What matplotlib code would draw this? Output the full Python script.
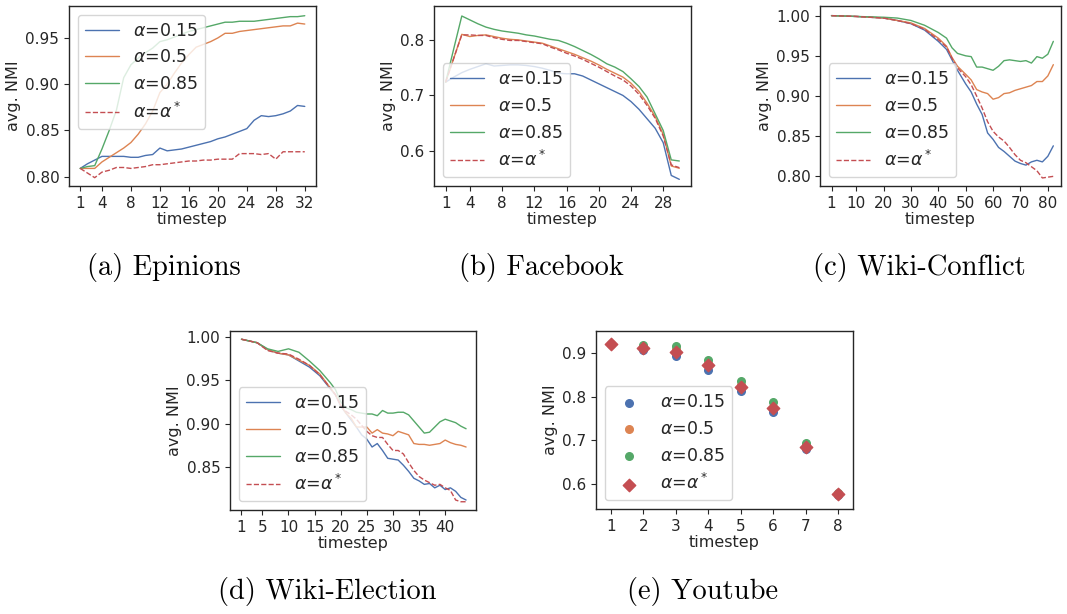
import matplotlib
matplotlib.use('Agg')
import seaborn as sns
from matplotlib import pyplot as plt

sns.set_style('ticks')
plt.rcParams['font.family'] = ['DejaVu Sans']

labels = [r'$\alpha$=0.15', r'$\alpha$=0.5', r'$\alpha$=0.85', r'$\alpha$=$\alpha^*$']

# (a) Epinions
epi_t = list(range(1, 33))
epi_015 = [0.809, 0.814, 0.818, 0.822, 0.822, 0.822, 0.822, 0.821, 0.821, 0.823, 0.824, 0.831,
           0.828, 0.829, 0.830, 0.832, 0.834, 0.836, 0.838, 0.841, 0.843, 0.846, 0.849, 0.852,
           0.861, 0.866, 0.865, 0.866, 0.868, 0.871, 0.877, 0.876]
epi_05 = [0.809, 0.809, 0.809, 0.816, 0.821, 0.826, 0.831, 0.837, 0.846, 0.857, 0.871, 0.891,
          0.900, 0.912, 0.923, 0.932, 0.940, 0.943, 0.946, 0.950, 0.955, 0.955, 0.957, 0.958,
          0.959, 0.960, 0.961, 0.962, 0.963, 0.963, 0.966, 0.965]
epi_085 = [0.809, 0.811, 0.812, 0.830, 0.850, 0.872, 0.907, 0.921, 0.928, 0.934, 0.939, 0.946,
           0.948, 0.951, 0.954, 0.957, 0.959, 0.961, 0.963, 0.965, 0.967, 0.967, 0.968, 0.968,
           0.968, 0.969, 0.970, 0.971, 0.972, 0.973, 0.973, 0.974]
epi_star = [0.809, 0.804, 0.799, 0.805, 0.807, 0.810, 0.810, 0.809, 0.810, 0.811, 0.813, 0.813,
            0.814, 0.815, 0.816, 0.817, 0.817, 0.818, 0.818, 0.819, 0.819, 0.819, 0.825, 0.825,
            0.825, 0.824, 0.825, 0.819, 0.827, 0.827, 0.827, 0.827]

# (b) Facebook
fb_t = list(range(1, 31))
fb_015 = [0.724, 0.733, 0.741, 0.747, 0.752, 0.757, 0.753, 0.754, 0.755, 0.755, 0.754, 0.752,
          0.749, 0.745, 0.740, 0.739, 0.739, 0.735, 0.728, 0.721, 0.714, 0.707, 0.700, 0.689,
          0.675, 0.658, 0.641, 0.615, 0.556, 0.549]
fb_05 = [0.724, 0.767, 0.810, 0.806, 0.808, 0.809, 0.806, 0.803, 0.801, 0.800, 0.798, 0.796,
         0.794, 0.789, 0.784, 0.779, 0.774, 0.768, 0.762, 0.755, 0.747, 0.740, 0.733, 0.722,
         0.707, 0.686, 0.662, 0.630, 0.573, 0.569]
fb_085 = [0.724, 0.784, 0.843, 0.836, 0.829, 0.823, 0.819, 0.816, 0.814, 0.812, 0.809, 0.807,
          0.804, 0.801, 0.799, 0.794, 0.788, 0.781, 0.774, 0.766, 0.757, 0.751, 0.743, 0.730,
          0.716, 0.697, 0.667, 0.637, 0.584, 0.582]
fb_star = [0.724, 0.767, 0.809, 0.809, 0.808, 0.808, 0.804, 0.801, 0.799, 0.799, 0.797, 0.795,
           0.793, 0.787, 0.782, 0.776, 0.771, 0.765, 0.758, 0.751, 0.743, 0.735, 0.728, 0.717,
           0.702, 0.682, 0.659, 0.627, 0.575, 0.570]

# (c) Wiki-Conflict
wc_t = [1, 10, 20, 25, 30, 35, 40, 43, 45, 47, 50, 52, 54, 56, 58, 60, 62, 64, 66, 68, 70,
        72, 74, 76, 78, 80, 82]
wc_015 = [1.000, 0.999, 0.997, 0.994, 0.990, 0.982, 0.968, 0.958, 0.945, 0.932, 0.915, 0.905,
          0.890, 0.877, 0.854, 0.846, 0.836, 0.831, 0.825, 0.819, 0.816, 0.814, 0.818, 0.820,
          0.818, 0.825, 0.838]
wc_05 = [1.000, 0.999, 0.997, 0.994, 0.991, 0.984, 0.972, 0.962, 0.948, 0.937, 0.927, 0.920,
         0.908, 0.905, 0.903, 0.896, 0.898, 0.903, 0.904, 0.907, 0.909, 0.911, 0.913, 0.918,
         0.918, 0.925, 0.939]
wc_085 = [1.000, 0.999, 0.998, 0.997, 0.994, 0.988, 0.979, 0.972, 0.960, 0.953, 0.950, 0.949,
          0.936, 0.936, 0.934, 0.932, 0.937, 0.944, 0.945, 0.944, 0.943, 0.944, 0.941, 0.949,
          0.947, 0.952, 0.968]
wc_star = [1.000, 0.999, 0.997, 0.994, 0.990, 0.983, 0.970, 0.961, 0.947, 0.935, 0.924, 0.914,
           0.900, 0.885, 0.868, 0.856, 0.849, 0.844, 0.836, 0.827, 0.820, 0.817, 0.812, 0.807,
           0.798, 0.799, 0.800]

# (d) Wiki-Election
we_t = [1, 4, 6, 8, 10, 12, 14, 16, 18, 19, 20, 21, 22, 23, 24, 25, 26, 27, 28, 29, 30, 31,
        32, 33, 34, 35, 36, 37, 38, 39, 40, 41, 42, 43, 44]
we_015 = [0.997, 0.993, 0.985, 0.981, 0.979, 0.972, 0.965, 0.955, 0.940, 0.933, 0.920, 0.912,
          0.904, 0.896, 0.887, 0.882, 0.873, 0.877, 0.869, 0.860, 0.859, 0.858, 0.852, 0.845,
          0.837, 0.834, 0.830, 0.831, 0.826, 0.829, 0.824, 0.826, 0.822, 0.815, 0.812]
we_05 = [0.997, 0.993, 0.985, 0.981, 0.979, 0.973, 0.967, 0.957, 0.941, 0.933, 0.921, 0.912,
         0.906, 0.896, 0.896, 0.896, 0.889, 0.893, 0.889, 0.888, 0.886, 0.891, 0.889, 0.887,
         0.877, 0.876, 0.876, 0.875, 0.876, 0.877, 0.881, 0.878, 0.876, 0.875, 0.873]
we_085 = [0.997, 0.993, 0.986, 0.983, 0.986, 0.982, 0.972, 0.961, 0.947, 0.939, 0.925, 0.918,
          0.916, 0.913, 0.912, 0.911, 0.911, 0.909, 0.915, 0.912, 0.912, 0.913, 0.913, 0.910,
          0.903, 0.896, 0.889, 0.890, 0.896, 0.902, 0.905, 0.903, 0.901, 0.897, 0.894]
we_star = [0.997, 0.993, 0.984, 0.981, 0.980, 0.974, 0.967, 0.956, 0.941, 0.933, 0.921, 0.914,
           0.910, 0.905, 0.898, 0.891, 0.886, 0.884, 0.884, 0.876, 0.869, 0.869, 0.865, 0.855,
           0.846, 0.839, 0.835, 0.832, 0.829, 0.830, 0.826, 0.823, 0.812, 0.810, 0.810]

# (e) Youtube
yt_t = [1, 2, 3, 4, 5, 6, 7, 8]
yt_015 = [0.920, 0.906, 0.892, 0.860, 0.813, 0.765, 0.681, 0.576]
yt_05 = [0.920, 0.912, 0.908, 0.875, 0.826, 0.775, 0.690, 0.578]
yt_085 = [0.920, 0.917, 0.916, 0.884, 0.836, 0.787, 0.695, 0.580]
yt_star = [0.920, 0.911, 0.903, 0.872, 0.822, 0.773, 0.685, 0.578]

captions = ['(a) Epinions', '(b) Facebook', '(c) Wiki-Conflict', '(d) Wiki-Election', '(e) Youtube']

colors = sns.color_palette('deep')
blue, orange, green, red = colors[0], colors[1], colors[2], colors[3]

plt.rcParams.update({
    'axes.edgecolor': '.15', 'axes.linewidth': 1.0,
    'xtick.color': '.15', 'ytick.color': '.15',
    'xtick.labelsize': 11, 'ytick.labelsize': 11,
    'axes.labelsize': 11.5, 'axes.labelcolor': '.15',
    'xtick.major.size': 3.5, 'ytick.major.size': 3.5,
    'legend.fontsize': 12.5,
})

fig = plt.figure(figsize=(10.67, 6.14), dpi=100)
W, H = 1067, 614


def axes_px(l, r, t, b):
    return fig.add_axes([l / W, 1 - b / H, (r - l) / W, (b - t) / H])


def line_panel(ax, t, series, xticks, loc):
    ax.plot(t, series[0], color=blue, lw=1, label=labels[0])
    ax.plot(t, series[1], color=orange, lw=1, label=labels[1])
    ax.plot(t, series[2], color=green, lw=1, label=labels[2])
    ax.plot(t, series[3], color=red, lw=1, ls='--', label=labels[3])
    ax.set_xticks(xticks)
    ax.set_xlabel('timestep', labelpad=1)
    ax.set_ylabel('avg. NMI', labelpad=3)
    ax.legend(loc=loc)


ax_a = axes_px(69, 316, 6, 186)
line_panel(ax_a, epi_t, [epi_015, epi_05, epi_085, epi_star], [1, 4, 8, 12, 16, 20, 24, 28, 32], 'upper left')
ax_a.set_xlim(-0.55, 33.55)
ax_a.set_ylim(0.790, 0.9845)
ax_a.set_yticks([0.80, 0.85, 0.90, 0.95])

ax_b = axes_px(434, 691, 6, 186)
line_panel(ax_b, fb_t, [fb_015, fb_05, fb_085, fb_star], [1, 4, 8, 12, 16, 20, 24, 28], 'lower left')
ax_b.set_ylim(0.537, 0.861)
ax_b.set_yticks([0.6, 0.7, 0.8])

ax_c = axes_px(820, 1061, 6, 186)
line_panel(ax_c, wc_t, [wc_015, wc_05, wc_085, wc_star], [1, 10, 20, 30, 40, 50, 60, 70, 80], 'lower left')
ax_c.set_xlim(-3.2, 84.8)
ax_c.set_ylim(0.788, 1.012)
ax_c.set_yticks([0.80, 0.85, 0.90, 0.95, 1.00])

ax_d = axes_px(230, 476, 331, 510)
line_panel(ax_d, we_t, [we_015, we_05, we_085, we_star], [1, 5, 10, 15, 20, 25, 30, 35, 40], 'lower left')
ax_d.set_xlim(-1.2, 45.9)
ax_d.set_ylim(0.8005, 1.0065)
ax_d.set_yticks([0.85, 0.90, 0.95, 1.00])

ax_e = axes_px(596, 853, 331, 509)
ax_e.scatter(yt_t, yt_015, color=blue, s=30, label=labels[0])
ax_e.scatter(yt_t, yt_05, color=orange, s=30, label=labels[1])
ax_e.scatter(yt_t, yt_085, color=green, s=30, label=labels[2])
ax_e.scatter(yt_t, yt_star, color=red, s=40, marker='D', label=labels[3])
ax_e.set_xticks(yt_t)
ax_e.set_xlim(0.54, 8.46)
ax_e.set_ylim(0.543, 0.950)
ax_e.set_yticks([0.6, 0.7, 0.8, 0.9])
ax_e.set_xlabel('timestep', labelpad=1)
ax_e.set_ylabel('avg. NMI', labelpad=3)
ax_e.legend(loc='lower left', scatterpoints=1)

cap_pos = [(164, 268), (541, 268), (919, 268), (327, 592), (703, 592)]
for text, (cx, cy) in zip(captions, cap_pos):
    fig.text(cx / W, 1 - cy / H, text, family='cmr10', fontsize=20.5,
             ha='center', va='center', color='black')

fig.savefig('out.png', dpi=100)
